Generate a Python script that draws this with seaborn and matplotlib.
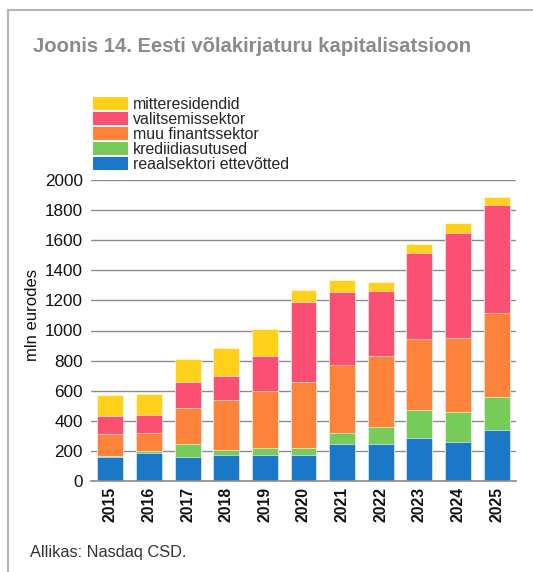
import matplotlib
matplotlib.use("Agg")
import matplotlib.pyplot as plt
import numpy as np
import pandas as pd
import seaborn as sns
from matplotlib.patches import Patch, Rectangle

# data (mln eurodes)
years = ["2015", "2016", "2017", "2018", "2019", "2020",
         "2021", "2022", "2023", "2024", "2025"]
reaalsektor = [162, 189, 158, 171, 171, 176, 244, 244, 289, 256, 342]
krediidiasutused = [7, 11, 91, 38, 51, 46, 74, 114, 180, 204, 214]
muu_finants = [144, 120, 233, 327, 376, 434, 451, 471, 473, 487, 557]
valitsemis = [118, 120, 176, 164, 235, 533, 489, 435, 576, 704, 718]
mitteresidendid = [138, 138, 155, 184, 180, 78, 80, 56, 55, 60, 56]

labels = ["reaalsektori ettevõtted", "krediidiasutused", "muu finantssektor",
          "valitsemissektor", "mitteresidendid"]
colors = ["#1B77C7", "#77CC59", "#FE833A", "#FB4F74", "#FFD11A"]

df = pd.DataFrame({
    "year": years,
    labels[0]: reaalsektor,
    labels[1]: krediidiasutused,
    labels[2]: muu_finants,
    labels[3]: valitsemis,
    labels[4]: mitteresidendid,
})
cum = df[labels].cumsum(axis=1)

sns.set_style("white")
plt.rcParams["font.family"] = ["Liberation Sans", "DejaVu Sans"]

fig = plt.figure(figsize=(5.33, 5.72), dpi=100)
ax = fig.add_axes([91 / 533, 1 - 481 / 572, 425 / 533, 301 / 572])

# stacked bars: draw cumulative totals from the top layer down
for lab, col in zip(labels[::-1], colors[::-1]):
    sns.barplot(x=df["year"], y=cum[lab], color=col, saturation=1,
                width=0.67, ax=ax, edgecolor="#ffffff", linewidth=0.4)

ax.set_xlim(-0.5, len(years) - 0.5)
ax.set_ylim(0, 2000)
ax.set_yticks(np.arange(0, 2001, 200))
ax.yaxis.grid(True, color="#8c8c8c", linewidth=1)
ax.set_axisbelow(True)
for s in ["top", "right", "left"]:
    ax.spines[s].set_visible(False)
ax.spines["bottom"].set_color("#8c8c8c")
ax.spines["bottom"].set_linewidth(1.2)

ax.set_xticks(np.arange(-0.5, len(years), 1), minor=True)
ax.tick_params(axis="x", which="minor", length=4, color="#8c8c8c", width=1)
ax.tick_params(axis="x", which="major", length=0, pad=4)
ax.tick_params(axis="y", length=4, color="#8c8c8c", width=1, pad=2,
               labelsize=12.3, labelcolor="#111111")
plt.setp(ax.get_xticklabels(), rotation=90, fontsize=11.3, fontweight="bold",
         color="#111111")

ax.set_xlabel("")
ax.set_ylabel("mln eurodes", fontsize=12, color="#111111")
ax.yaxis.set_label_coords(-51 / 425, 0.55)

# legend
handles = [Patch(facecolor=c, edgecolor="none") for c in colors[::-1]]
fig.legend(handles, labels[::-1], loc="upper left",
           bbox_to_anchor=(93 / 533, 1 - 97 / 572), frameon=False,
           fontsize=11.4, handlelength=2.2, handleheight=0.85,
           labelspacing=0.0, handletextpad=0.3, borderpad=0,
           borderaxespad=0)

fig.text(33 / 533, 1 - 47 / 572, "Joonis 14. Eesti võlakirjaturu kapitalisatsioon",
         fontsize=14.6, fontweight="bold", color="#8a8a8a", va="center")
fig.text(30 / 533, 1 - 552 / 572, "Allikas: Nasdaq CSD.", fontsize=11.8,
         color="#333333", va="center")

# outer frame
fig.patches.append(Rectangle((7.5 / 533, -0.1), 1.2, 1.1 - 9.5 / 572,
                             transform=fig.transFigure, fill=False,
                             edgecolor="#b4b4b4", linewidth=1.5))

fig.savefig("out.png", dpi=100)
